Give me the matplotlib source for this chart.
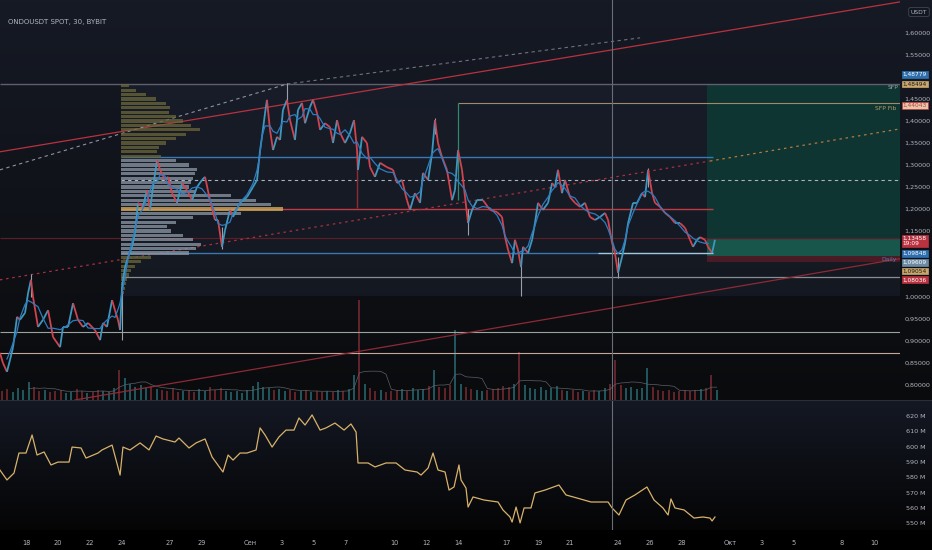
import numpy as np
import matplotlib.pyplot as plt
import matplotlib.transforms as mtransforms
from matplotlib.collections import LineCollection
from matplotlib.colors import to_rgb

# price path (days since Aug 18, close price)
price_t = [-1.63, -1.44, -1.19, -1.0, -0.81, -0.56, -0.38, -0.06, 0.13, 0.31,
           0.44, 0.75, 1.06, 1.38, 1.69, 2.13, 2.31, 2.63, 2.94, 3.25,
           3.56, 3.88, 4.31, 4.63, 4.81, 5.06, 5.38, 5.56, 5.75, 5.88,
           6.0, 6.19, 6.38, 6.63, 6.81, 7.0, 7.31, 7.56, 7.75, 7.94,
           8.19, 8.38, 8.69, 8.88, 9.13, 9.44, 9.75, 10.06, 10.38, 10.69,
           11.0, 11.19, 11.5, 11.81, 12.0, 12.25, 12.44, 12.75, 12.94, 13.25,
           13.38, 13.81, 14.19, 14.44, 14.63, 14.75, 14.94, 15.06, 15.25, 15.44,
           15.69, 15.88, 16.06, 16.31, 16.5, 16.81, 17.0, 17.25, 17.44, 17.75,
           17.94, 18.19, 18.38, 18.69, 19.0, 19.19, 19.44, 19.63, 19.94, 20.25,
           20.5, 20.69, 20.75, 21.0, 21.31, 21.5, 21.81, 22.13, 22.56, 22.94,
           23.19, 23.5, 23.81, 24.0, 24.31, 24.63, 24.81, 25.13, 25.38, 25.56,
           25.75, 26.0, 26.31, 26.63, 26.81, 27.0, 27.25, 27.44, 27.63, 27.88,
           28.19, 28.56, 29.0, 29.44, 29.75, 29.94, 30.13, 30.38, 30.56, 30.75,
           30.94, 31.06, 31.38, 31.63, 31.81, 32.0, 32.31, 32.63, 32.88, 33.06,
           33.25, 33.5, 33.69, 34.0, 34.31, 34.63, 34.94, 35.25, 35.56, 35.88,
           36.19, 36.38, 36.63, 36.81, 37.0, 37.25, 37.44, 37.63, 37.94, 38.19,
           38.5, 38.69, 38.88, 39.13, 39.31, 39.63, 39.94, 40.25, 40.56, 40.88,
           41.19, 41.5, 41.69, 41.94, 42.13, 42.44, 42.63, 42.88, 43.06]
price = [0.873, 0.850, 0.830, 0.857, 0.886, 0.955, 0.948, 0.964, 1.009, 1.039,
         1.000, 0.932, 0.948, 0.970, 0.909, 0.886, 0.932, 0.932, 0.986, 0.948,
         0.932, 0.941, 0.925, 0.902, 0.941, 0.932, 0.993, 0.970, 0.948, 0.925,
         1.023, 1.068, 1.091, 1.114, 1.145, 1.214, 1.205, 1.243, 1.198, 1.250,
         1.311, 1.289, 1.266, 1.273, 1.236, 1.214, 1.259, 1.243, 1.220, 1.250,
         1.266, 1.273, 1.220, 1.175, 1.175, 1.114, 1.152, 1.198, 1.182, 1.205,
         1.214, 1.227, 1.250, 1.266, 1.334, 1.364, 1.418, 1.448, 1.380, 1.334,
         1.364, 1.357, 1.425, 1.448, 1.402, 1.357, 1.425, 1.441, 1.395, 1.432,
         1.448, 1.418, 1.380, 1.395, 1.386, 1.350, 1.402, 1.373, 1.350, 1.373,
         1.402, 1.334, 1.289, 1.364, 1.350, 1.295, 1.273, 1.305, 1.295, 1.289,
         1.259, 1.266, 1.220, 1.198, 1.236, 1.214, 1.282, 1.266, 1.327, 1.402,
         1.350, 1.318, 1.289, 1.220, 1.243, 1.334, 1.289, 1.227, 1.168, 1.198,
         1.220, 1.220, 1.198, 1.193, 1.182, 1.136, 1.107, 1.077, 1.130, 1.107,
         1.068, 1.114, 1.100, 1.130, 1.168, 1.214, 1.198, 1.214, 1.259, 1.250,
         1.289, 1.236, 1.266, 1.227, 1.214, 1.205, 1.214, 1.182, 1.175, 1.182,
         1.191, 1.175, 1.123, 1.100, 1.055, 1.091, 1.123, 1.168, 1.214, 1.214,
         1.236, 1.227, 1.289, 1.236, 1.214, 1.205, 1.191, 1.182, 1.168, 1.168,
         1.157, 1.130, 1.114, 1.130, 1.136, 1.130, 1.114, 1.100, 1.130]

# notable wicks
wick_t = [0.31, 6.0, 12.25, 16.31, 25.56, 27.63, 30.94, 37.0, 38.88]
wick_lo = [1.000, 0.902, 1.108, 1.440, 1.370, 1.140, 1.003, 1.043, 1.250]
wick_hi = [1.052, 1.030, 1.160, 1.486, 1.407, 1.200, 1.070, 1.090, 1.293]

# volume, 3 bars per day starting at day -1.5
vol_start = -1.5
volume = [0.9, 1.1, 0.8, 1.2, 1.0, 1.8, 1.3, 0.9, 1.0, 0.8,
          0.9, 1.0, 0.7, 0.8, 1.1, 0.9, 0.7, 0.8, 1.0, 0.9,
          0.8, 1.2, 3.0, 2.2, 1.6, 1.3, 1.5, 1.2, 1.4, 1.1,
          1.0, 0.9, 1.2, 0.8, 0.9, 1.0, 0.8, 1.1, 0.9, 1.3,
          1.0, 1.2, 0.9, 0.8, 0.9, 0.7, 1.0, 1.4, 1.8, 1.3,
          1.2, 1.0, 1.1, 0.9, 1.0, 0.8, 0.9, 1.0, 0.8, 0.9,
          0.8, 0.9, 0.8, 1.0, 0.9, 1.1, 2.5, 10.0, 1.6, 1.2,
          0.9, 1.0, 0.8, 0.9, 1.0, 1.1, 0.9, 1.2, 1.0, 1.1,
          1.4, 3.0, 1.3, 1.2, 1.5, 7.0, 1.6, 1.3, 1.1, 1.0,
          0.9, 1.0, 1.1, 1.2, 1.4, 1.3, 1.6, 4.8, 1.5, 1.2,
          1.1, 1.3, 1.0, 1.2, 1.4, 1.0, 0.9, 1.0, 0.8, 0.9,
          0.8, 1.0, 0.9, 1.2, 1.6, 4.0, 1.5, 1.2, 1.3, 1.1,
          1.2, 3.2, 1.3, 1.0, 0.9, 1.0, 0.8, 0.9, 1.0, 0.9,
          1.0, 1.1, 1.2, 2.5, 1.0]

# volume profile (price level -> relative volume)
vp_price = [round(1.48 - 0.01 * i, 2) for i in range(48)]
vp_vol = [8, 15, 25, 35, 45, 49, 48, 55, 62, 70,
          79, 65, 55, 45, 38, 36, 40, 55, 68, 76,
          74, 72, 70, 68, 75, 110, 135, 150, 162, 120,
          72, 55, 46, 50, 62, 72, 80, 75, 68, 30,
          20, 14, 10, 8, 6, 5, 4, 3]
vp_start = 5.94
va_high, va_low, poc = 1.318, 1.100, 1.20

# lower pane indicator (millions)
ind_t = [-1.63, -1.19, -0.75, -0.44, 0.0, 0.38, 0.69, 1.13, 1.56, 2.0,
         2.69, 2.88, 3.44, 3.75, 4.5, 4.75, 5.38, 5.63, 5.88, 6.06,
         6.5, 7.13, 7.69, 8.13, 8.56, 9.31, 9.56, 10.19, 10.63, 11.19,
         11.63, 12.31, 12.63, 12.94, 13.38, 13.81, 14.38, 14.63, 14.94, 15.38,
         15.81, 16.25, 16.75, 17.06, 17.44, 17.88, 18.38, 18.75, 19.31, 19.88,
         20.31, 20.63, 20.75, 21.38, 21.81, 22.5, 23.13, 23.69, 24.44, 24.69,
         25.13, 25.44, 25.75, 26.19, 26.44, 26.75, 27.06, 27.19, 27.5, 27.63,
         27.94, 28.63, 29.5, 29.81, 30.25, 30.38, 30.63, 30.88, 31.13, 31.56,
         31.81, 32.44, 33.31, 33.75, 34.44, 35.31, 36.38, 36.63, 37.06, 37.5,
         38.06, 38.81, 39.25, 39.81, 40.13, 40.31, 40.56, 41.13, 41.75, 42.31,
         42.75, 42.88, 43.06]
ind_v = [584.7, 578.2, 582.7, 595.8, 595.8, 607.6, 594.5, 596.5, 588.0, 589.9,
         589.9, 599.7, 599.1, 592.5, 595.8, 597.8, 601.0, 591.2, 581.4, 599.7,
         597.8, 602.4, 597.8, 606.9, 605.0, 603.0, 605.6, 599.1, 602.4, 605.0,
         593.2, 583.4, 594.5, 591.2, 595.8, 595.8, 597.8, 612.2, 607.6, 599.7,
         606.3, 610.8, 610.8, 618.7, 614.1, 620.7, 610.8, 612.2, 615.4, 610.8,
         614.8, 609.5, 589.3, 589.3, 586.7, 589.3, 589.3, 584.7, 583.4, 581.4,
         586.0, 595.8, 584.7, 583.4, 571.6, 573.6, 588.0, 578.2, 572.9, 560.5,
         567.1, 565.1, 563.8, 558.6, 554.0, 550.7, 560.5, 550.1, 559.9, 559.9,
         569.7, 571.6, 574.9, 568.4, 566.4, 563.8, 563.8, 559.9, 555.3, 565.1,
         568.4, 573.6, 565.1, 559.9, 555.3, 565.8, 559.9, 558.6, 553.3, 554.0,
         553.3, 551.4, 554.0]

# x axis labels
tick_days = [0, 2, 4, 6, 9, 11, 14, 16, 18, 20, 23, 25, 27, 30, 32, 34, 37, 39,
             41, 44, 46, 48, 51, 53]
tick_labels = ['18', '20', '22', '24', '27', '29', 'Сен', '3', '5', '7', '10',
               '12', '14', '17', '19', '21', '24', '26', '28', 'Окт', '3', '5',
               '8', '10']

# price scale labels; those hidden behind price tags in the chart are left blank
price_ticks = [0.80, 0.85, 0.90, 0.95, 1.00, 1.05, 1.10, 1.15, 1.20, 1.25,
               1.30, 1.35, 1.40, 1.45, 1.50, 1.55, 1.60]
hidden_ticks = [1.05, 1.10, 1.50]

UP = '#3f97bd'
DOWN = '#cf4450'
TXT = '#b2b5be'

W, H = 932, 550
fig = plt.figure(figsize=(W / 100, H / 100), dpi=100)
fig.patch.set_facecolor('black')


def grad(c1, c2, n):
    a, b = np.array(to_rgb(c1)), np.array(to_rgb(c2))
    s = np.linspace(0, 1, n)[:, None]
    return a + (b - a) * s


bg = np.vstack([grad('#161a25', '#0a0b0d', 400), [to_rgb('#2a2e39')],
                grad('#141823', '#050506', 129), np.zeros((20, 3))])
bax = fig.add_axes([0, 0, 1, 1], zorder=-10)
bax.imshow(bg[:, None, :], aspect='auto', extent=[0, 1, 0, 1])
bax.axis('off')

ax = fig.add_axes([0, 150 / H, 900 / W, 400 / H])
lax = fig.add_axes([0, 20 / H, 900 / W, 129 / H])
for a in (ax, lax):
    a.set_facecolor('none')
    for s in a.spines.values():
        s.set_visible(False)
    a.set_xlim(-1.625, 54.625)

ax.set_ylim(0.7659, 1.675)
lax.set_ylim(545.5, 629.8)

# volume
vax = ax.twinx()
vax.set_ylim(0, 40)
vax.set_xlim(-1.625, 54.625)
vax.set_axis_off()
vax.set_zorder(ax.get_zorder() - 1)
vt = vol_start + np.arange(len(volume)) / 3
pt, pp = np.array(price_t), np.array(price)
dirn = np.interp(vt, pt, pp) - np.interp(vt - 1 / 3, pt, pp)
vcol = np.where(dirn >= 0, '#2a6f7a', '#7f2c35')
vax.bar(vt, volume, width=0.14, color=vcol, alpha=0.75)
vma = np.convolve(volume, np.ones(6) / 6, mode='valid')
vax.plot(vt[5:], vma, color='#5a5f6b', lw=0.5)

# shaded fixed-range box and position tool
ax.fill_between([vp_start, 54.625], 1.003, 1.484, color='#1d2433', alpha=0.45, lw=0, zorder=1)
ax.fill_between([42.56, 54.625], 1.134, 1.484, color='#0e3531', lw=0, zorder=1.5)
ax.fill_between([42.56, 54.625], 1.093, 1.134, color='#18564c', lw=0, zorder=1.5)
ax.fill_between([42.56, 54.625], 1.080, 1.093, color='#4a1b25', lw=0, zorder=1.5)

# horizontal levels
ax.hlines(1.484, -1.625, 54.625, color='#5d616c', lw=1.0, zorder=2)
ax.hlines(1.134, -1.625, 54.625, color='#5a1e28', lw=0.9, zorder=2)
ax.hlines(0.920, -1.625, 54.625, color='#9aa39e', lw=0.8, zorder=2)
ax.hlines(0.873, -1.625, 54.625, color='#c6a69a', lw=0.8, zorder=2)
ax.hlines(1.045, vp_start, 54.625, color='#8a8d94', lw=0.9, zorder=2)
ax.hlines(1.266, vp_start, 54.625, color='#aab4c0', lw=0.8, linestyles=(0, (3, 3)), zorder=2)
ax.hlines([va_high, va_low], vp_start, 42.94, color='#3a78b5', lw=1.0, zorder=2)
ax.hlines(poc, vp_start, 42.94, color='#c23a44', lw=1.0, zorder=2)
ax.hlines(1.100, 35.75, 42.94, color='#a9c6d6', lw=0.9, zorder=2.2)
ax.hlines(1.441, 27.0, 54.625, color='#a08a6a', lw=0.8, zorder=2)
ax.vlines(27.0, 1.220, 1.441, color='#2f8a6c', lw=0.9, zorder=2)
ax.vlines(20.69, 1.202, 1.334, color='#8e2b35', lw=1.0, zorder=2)

# trend lines
ax.plot([-1.63, 55], [1.33, 1.673], color='#b8323f', lw=0.9, zorder=2)
ax.plot([-1.63, 16.31], [1.289, 1.484], color='#8d939e', lw=0.8, ls=(0, (3, 3)), zorder=2)
ax.plot([16.31, 38.38], [1.484, 1.589], color='#6d727c', lw=0.8, ls=(0, (3, 3)), zorder=2)
ax.plot([-1.63, 42.75], [1.039, 1.309], color='#a8323c', lw=0.9, ls=(0, (2, 3)), zorder=2)
ax.plot([42.75, 54.94], [1.309, 1.384], color='#b57a3c', lw=0.9, ls=(0, (2, 3)), zorder=2)
ax.plot([3.06, 54.94], [0.766, 1.089], color='#8e2a36', lw=0.9, zorder=2)

# volume profile
vpv = np.array(vp_vol, dtype=float)
vpp = np.array(vp_price)
vcols = []
for pr in vpp:
    if abs(pr - poc) < 0.001:
        vcols.append('#d6b25e')
    elif va_low - 0.001 <= pr <= va_high + 0.001:
        vcols.append('#8e9aa8')
    else:
        vcols.append('#6b673a')
ax.barh(vpp, vpv / vpv.max() * 10.1, left=vp_start, height=0.0075,
        color=vcols, alpha=0.75, lw=0, zorder=3)

# price
segs = np.stack([np.column_stack([pt[:-1], pp[:-1]]),
                 np.column_stack([pt[1:], pp[1:]])], axis=1)
cols = np.where(np.diff(pp) >= 0, UP, DOWN)
ax.add_collection(LineCollection(segs, colors=cols, linewidths=1.3, zorder=6))
ax.vlines(wick_t, wick_lo, wick_hi, color='#9aa0aa', lw=0.8, zorder=5)
ma = np.convolve(pp, np.ones(5) / 5, mode='valid')
ax.plot(pt[2:-2], ma, color='#2f7bbf', lw=0.9, zorder=7)

# crosshair
ax.axvline(36.63, color='#6a6d78', lw=0.8, zorder=8)
lax.axvline(36.63, color='#6a6d78', lw=0.8, zorder=8)

# lower indicator
lax.plot(ind_t, ind_v, color='#d8b26a', lw=0.9)

# axes ticks
ax.set_xticks([])
ax.set_yticks(price_ticks)
ax.set_yticklabels(['' if v in hidden_ticks else f'{v:.5f}'.replace('.', ',')
                    for v in price_ticks])
ax.yaxis.tick_right()
ax.tick_params(axis='y', length=0, pad=3, labelsize=4.6, labelcolor=TXT)

lt = np.arange(550, 621, 10)
lax.set_yticks(lt)
lax.set_yticklabels([f'{v} M' for v in lt])
lax.yaxis.tick_right()
lax.tick_params(axis='y', length=0, pad=4, labelsize=4.6, labelcolor=TXT)
lax.set_xticks(tick_days)
lax.set_xticklabels(tick_labels)
lax.tick_params(axis='x', length=0, pad=7, labelsize=4.8, labelcolor=TXT)

# price labels on the right scale
tr = mtransforms.blended_transform_factory(ax.transAxes, ax.transData)
boxes = [(1.506, '1,48779', '#2e6fb0', 'white', '#2e6fb0'),
         (1.484, '1,48494', '#c9a66b', '#1a1a1a', '#c9a66b'),
         (1.436, '1,44043', '#e3c7a6', '#c23a44', '#c23a44'),
         (1.127, '1,13458\n19:09', '#b8323f', 'white', '#b8323f'),
         (1.099, '1,09848', '#2e6fb0', 'white', '#2e6fb0'),
         (1.079, '1,09609', '#6d8aa3', 'white', '#6d8aa3'),
         (1.059, '1,09054', '#c9a66b', '#1a1a1a', '#c9a66b'),
         (1.039, '1,08036', '#b8323f', 'white', '#b8323f')]
for y, s, fc, tc, ec in boxes:
    ax.text(1.003, y, s, transform=tr, ha='left', va='center', fontsize=4.2,
            color=tc, linespacing=1.0, clip_on=False, zorder=20,
            bbox=dict(boxstyle='square,pad=0.15', fc=fc, ec=ec, lw=0.5))

ax.text(54.5, 1.475, 'SFP', ha='right', va='center', fontsize=4.3, color='#9aa0aa', zorder=9)
ax.text(54.4, 1.4295, 'SFP Fib', ha='right', va='center', fontsize=4.3, color='#b59a6a', zorder=9)
ax.text(54.4, 1.086, 'Daily', ha='right', va='center', fontsize=4.3, color='#4f7fb5', zorder=9)

fig.text(8 / W, 1 - 22 / H, 'ONDOUSDT SPOT, 30, BYBIT', fontsize=5, color=TXT, va='center')
fig.text(919 / W, 1 - 12 / H, 'USDT', fontsize=4.3, color=TXT, ha='center', va='center',
         bbox=dict(boxstyle='round,pad=0.35', fc='#131722', ec='#434651', lw=0.6))

fig.savefig('out.png', dpi=100, facecolor=fig.get_facecolor())
